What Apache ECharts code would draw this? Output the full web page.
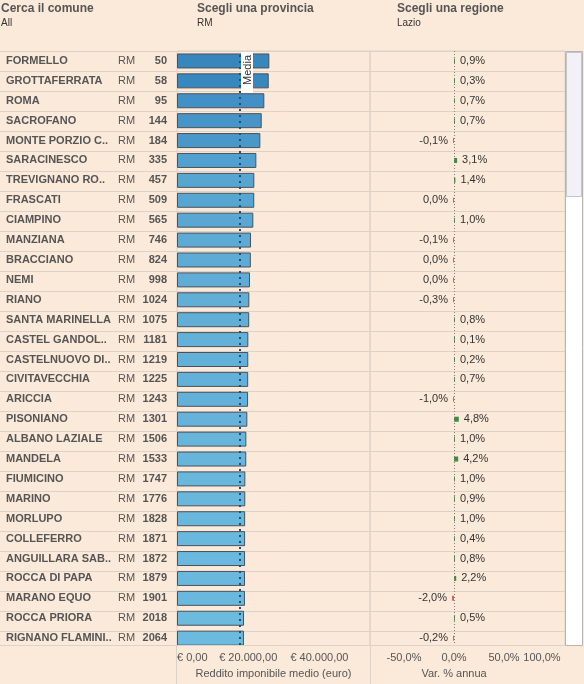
<!DOCTYPE html>
<html><head><meta charset="utf-8">
<script src="https://cdn.jsdelivr.net/npm/echarts@6/dist/echarts.min.js"></script>
<style>html,body{margin:0;padding:0;background:#fbe9da;}#c{width:584px;height:684px;}</style>
</head><body><div id="c"></div>
<script>
const comuni = ['FORMELLO','GROTTAFERRATA','ROMA','SACROFANO','MONTE PORZIO C..','SARACINESCO','TREVIGNANO RO..','FRASCATI','CIAMPINO','MANZIANA','BRACCIANO','NEMI','RIANO','SANTA MARINELLA','CASTEL GANDOL..','CASTELNUOVO DI..','CIVITAVECCHIA','ARICCIA','PISONIANO','ALBANO LAZIALE','MANDELA','FIUMICINO','MARINO','MORLUPO','COLLEFERRO','ANGUILLARA SAB..','ROCCA DI PAPA','MARANO EQUO','ROCCA PRIORA','RIGNANO FLAMINI..'];
const province = ['RM','RM','RM','RM','RM','RM','RM','RM','RM','RM','RM','RM','RM','RM','RM','RM','RM','RM','RM','RM','RM','RM','RM','RM','RM','RM','RM','RM','RM','RM'];
const ranks = [50,58,95,144,184,335,457,509,565,746,824,998,1024,1075,1181,1219,1225,1243,1301,1506,1533,1747,1776,1828,1871,1872,1879,1901,2018,2064];
const reddito = [25930,25760,24520,23790,23400,22280,21710,21690,21430,20790,20730,20500,20310,20280,20030,20010,19990,19960,19750,19470,19450,19190,19170,19140,19120,19110,19100,19080,18820,18800];
const variazione = [0.9,0.3,0.7,0.7,-0.1,3.1,1.4,-0.04,1.0,-0.1,-0.03,-0.04,-0.3,0.8,0.1,0.2,0.7,-1.0,4.8,1.0,4.2,1.0,0.9,1.0,0.4,0.8,2.2,-2.0,0.5,-0.2];
const mediaReddito = 17700;
const incomeTicks = [0,20000,40000];
const varTicks = [-50,0,50,100];
const headers = [['Cerca il comune','All'],['Scegli una provincia','RM'],['Scegli una regione','Lazio']];

const FONT = '"Liberation Sans", Arial, sans-serif';
const BG = '#fbe9da';
const LINE = '#dcd2c8';

function fmtEuro(v){
  return '€ ' + String(v).replace(/\B(?=(\d{3})+(?!\d))/g,'.') + ',00';
}
function fmtPct(v){
  const s = Math.abs(v) < 0.05 ? '0,0' : v.toFixed(1).replace('.',',');
  return s + '%';
}

const chart = echarts.init(document.getElementById('c'), null, {renderer:'canvas'});
const headerLeft = [1,197,397];
chart.setOption({
  animation:false,
  backgroundColor: BG,
  textStyle:{fontFamily:FONT},
  title: headers.map((h,i)=>({
    left: headerLeft[i], top: 3, padding:0, itemGap:3,
    text: h[0], subtext: h[1],
    textStyle:{fontSize:12, fontWeight:'bold', color:'#555', fontFamily:FONT},
    subtextStyle:{fontSize:10, color:'#333', fontFamily:FONT}
  })),
  grid:[
    {left:0, width:565, top:51, height:600},
    {left:177, width:193, top:51, height:600, show:true, borderColor:LINE, borderWidth:1},
    {left:370, width:195, top:51, height:600, show:true, borderColor:LINE, borderWidth:1}
  ],
  xAxis:[
    {gridIndex:0, type:'value', show:false, min:0, max:1},
    {gridIndex:1, type:'value', min:0, max:54200,
     axisLine:{show:false}, axisTick:{show:false}, splitLine:{show:false},
     axisLabel:{customValues:incomeTicks, formatter:fmtEuro, fontSize:11, color:'#555', margin:4, alignMinLabel:'left', fontFamily:FONT},
     name:'Reddito imponibile medio (euro)', nameLocation:'middle', nameGap:17,
     nameTextStyle:{fontSize:11, color:'#555', fontFamily:FONT}},
    {gridIndex:2, type:'value', min:-84, max:111,
     axisLine:{show:false}, axisTick:{show:false}, splitLine:{show:false},
     axisLabel:{customValues:varTicks, fontSize:11, color:'#555', margin:4, fontFamily:FONT,
       formatter:v => v===100 ? '{e|' + fmtPct(v) + '}' : fmtPct(v),
       rich:{e:{padding:[0,24,0,0], fontSize:11, color:'#555', fontFamily:FONT}}},
     name:'Var. % annua', nameLocation:'middle', nameGap:17,
     nameTextStyle:{fontSize:11, color:'#555', padding:[0,27,0,0], fontFamily:FONT}}
  ],
  yAxis:[
    {gridIndex:0, type:'category', data:comuni, inverse:true,
     axisLine:{show:false}, axisTick:{show:false}, axisLabel:{show:false},
     splitLine:{show:true, lineStyle:{color:LINE, width:1}}},
    {gridIndex:1, type:'category', data:comuni, inverse:true,
     axisLine:{show:false}, axisTick:{show:false}, splitLine:{show:false},
     axisLabel:{align:'left', margin:171, fontSize:11, color:'#555', fontFamily:FONT,
       formatter:(v,i)=>'{n|'+v+'}{p|'+province[i]+'}{r|'+ranks[i]+'}',
       rich:{
         n:{width:112, fontWeight:'bold', fontSize:11, color:'#555', fontFamily:FONT},
         p:{width:30, fontSize:11, color:'#555', fontFamily:FONT},
         r:{width:19, align:'right', fontWeight:'bold', fontSize:11, color:'#555', fontFamily:FONT}
       }}},
    {gridIndex:2, type:'category', data:comuni, inverse:true, show:false}
  ],
  visualMap:{show:false, type:'continuous', seriesIndex:0, dimension:0, min:18800, max:26000,
    inRange:{color:['#6cbade','#3785be']}},
  series:[
    {type:'bar', xAxisIndex:1, yAxisIndex:1, data:reddito, barWidth:15,
     itemStyle:{borderColor:'#4b5258', borderWidth:1},
     markLine:{silent:true, symbol:'none', animation:false,
       data:[[{xAxis:mediaReddito, y:651},{xAxis:mediaReddito, y:51}]],
       lineStyle:{type:[2,4], color:'#1f4e7a', width:2},
       label:{show:true, position:'insideEndBottom', formatter:'Media', backgroundColor:'#fff',
         padding:[1,3,0,8], fontSize:11, color:'#333', distance:1, fontFamily:FONT}}},
    {type:'bar', xAxisIndex:2, yAxisIndex:2, barWidth:5, barMinHeight:1,
     data: variazione.map(v=>({value:v,
        itemStyle:{color: v<0 ? '#d2645c' : '#3f8a45'},
        label:{position: v<0 ? 'left' : 'right'}})),
     label:{show:true, distance:5, fontSize:11, color:'#333', fontFamily:FONT,
       formatter:p=>fmtPct(p.value)},
     markLine:{silent:true, symbol:'none', animation:false,
       data:[{xAxis:0}],
       lineStyle:{type:[1,2], color:'#8a7e74', width:1},
       label:{show:false}}}
  ],
  graphic:[
    {type:'rect', z:50, shape:{x:0, y:645, width:566, height:7}, style:{fill:BG}},
    {type:'line', z:51, shape:{x1:0, y1:645.5, x2:565, y2:645.5}, style:{stroke:LINE, lineWidth:1}},
    {type:'line', z:51, shape:{x1:176.5, y1:645, x2:176.5, y2:684}, style:{stroke:LINE, lineWidth:1}},
    {type:'line', z:51, shape:{x1:370.5, y1:645, x2:370.5, y2:684}, style:{stroke:LINE, lineWidth:1}},
    {type:'rect', z:52, shape:{x:565.5, y:51.5, width:17, height:594}, style:{fill:'#ffffff', stroke:'#b9b4b0', lineWidth:1}},
    {type:'rect', z:53, shape:{x:566.5, y:52.5, width:15, height:144}, style:{fill:'#f1f1f7', stroke:'#c4c4cc', lineWidth:1}}
  ]
});
</script>
</body></html>
